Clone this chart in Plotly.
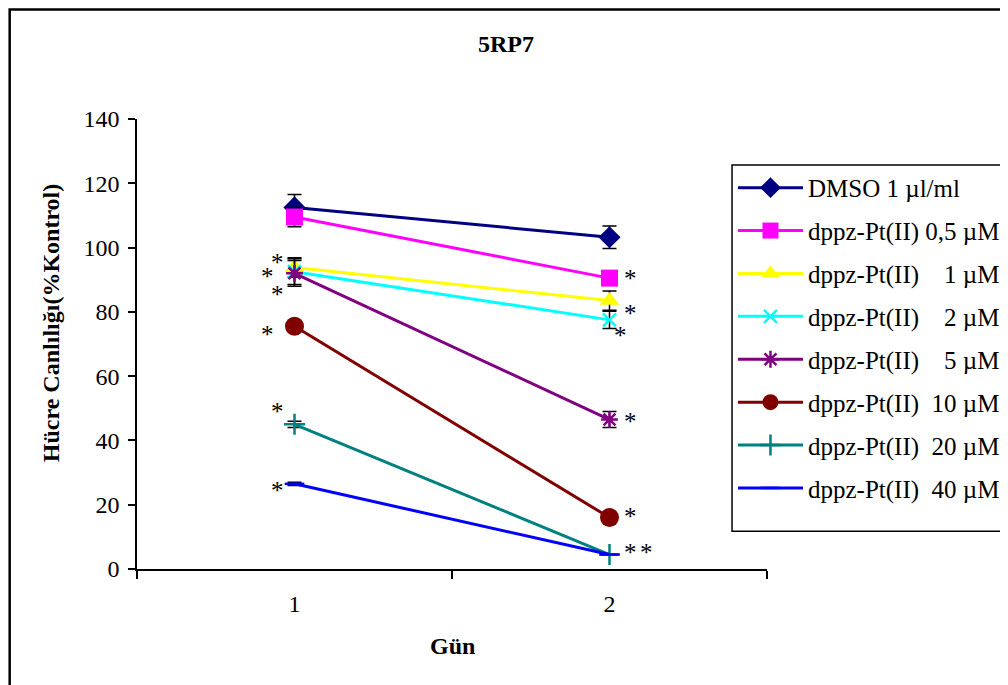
import plotly.graph_objects as go

days = [1, 2]
series_names = [
    "DMSO 1 µl/ml",
    "dppz-Pt(II) 0,5 µM",
    "dppz-Pt(II)\u00a0\u00a0\u00a0 1 µM",
    "dppz-Pt(II)\u00a0\u00a0\u00a0 2 µM",
    "dppz-Pt(II)\u00a0\u00a0\u00a0 5 µM",
    "dppz-Pt(II)\u00a0 10 µM",
    "dppz-Pt(II)\u00a0 20 µM",
    "dppz-Pt(II)\u00a0 40 µM",
]
dmso = [112.5, 103.2]
pt_05 = [109.5, 90.5]
pt_1 = [93.8, 83.5]
pt_2 = [92.5, 77.5]
pt_5 = [92.0, 46.5]
pt_10 = [75.5, 16.0]
pt_20 = [45.0, 4.5]
pt_40 = [26.5, 4.5]
values = [dmso, pt_05, pt_1, pt_2, pt_5, pt_10, pt_20, pt_40]

err_dmso = [4.0, 3.5]
err_05 = [3.0, 0.0]
err_1 = [3.0, 3.0]
err_2 = [4.0, 2.7]
err_5 = [4.0, 2.5]
err_10 = [0.0, 0.0]
err_20 = [1.0, 0.0]
err_40 = [0.5, 0.0]
errors = [err_dmso, err_05, err_1, err_2, err_5, err_10, err_20, err_40]

colors = ["#000080", "#FF00FF", "#FFFF00", "#00FFFF", "#800080", "#800000", "#008080", "#0000FF"]
symbols = ["diamond", "square", "triangle-up", "x-thin", "asterisk", "circle", "cross-thin", "line-ew"]
sizes = [17, 17, 17, 13, 14, 19, 15, 14]

# significance stars: (series index, day index, xshift px, yshift px)
stars = [
    (2, 0, -17, 5), (3, 0, -27, -5), (4, 0, -17, -21), (5, 0, -27, -8),
    (6, 0, -17, 13), (7, 0, -17, -7),
    (1, 1, 21, 0), (2, 1, 21, -13), (3, 1, 11, -16), (4, 1, 21, -2),
    (5, 1, 21, 1), (7, 1, 21, 2), (7, 1, 37, 2),
]

FONT = "Liberation Serif, Times New Roman, serif"
FS = 24
LFS = 25

fig = go.Figure()
for i, (name, vals, errs) in enumerate(zip(series_names, values, errors)):
    sym = symbols[i]
    thin = sym in ("x-thin", "asterisk", "cross-thin", "line-ew")
    fig.add_trace(go.Scatter(
        x=days, y=vals, name=name, mode="lines+markers",
        line=dict(color=colors[i], width=3),
        marker=dict(symbol=sym, size=sizes[i], color=colors[i],
                    line=dict(color=colors[i], width=2.5 if thin else 0)),
        error_y=dict(type="data", array=errs, visible=True, color="black",
                     thickness=1.5, width=7),
        legendgroup=f"g{i}",
    ))

for si, di, xs, ys in stars:
    fig.add_annotation(x=days[di], y=values[si][di], xref="x", yref="y",
                       text="*", showarrow=False, xshift=xs, yshift=ys,
                       font=dict(family=FONT, size=25, color="black"))

fig.add_annotation(x=0.586, y=1.167, xref="paper", yref="paper", text="<b>5RP7</b>",
                   xanchor="center", yanchor="middle",
                   showarrow=False, font=dict(family=FONT, size=FS, color="black"))
fig.add_annotation(x=-0.136, y=0.547, xref="paper", yref="paper",
                   text="<b>Hücre Canlılığı(%Kontrol)</b>", textangle=-90,
                   xanchor="center", yanchor="middle",
                   showarrow=False, font=dict(family=FONT, size=FS, color="black"))
fig.add_annotation(x=0.5, y=-0.171, xref="paper", yref="paper", text="<b>Gün</b>",
                   xanchor="center", yanchor="middle",
                   showarrow=False, font=dict(family=FONT, size=FS, color="black"))

# outer frame (top/left edges kept inside the drawing surface)
fig.add_shape(type="rect", xref="paper", yref="paper", x0=-0.2021, y0=-0.6,
              x1=1.6, y1=1.2433, line=dict(color="black", width=2.5), layer="below")
# legend box
fig.add_shape(type="rect", xref="paper", yref="paper", x0=0.9445, y0=0.084,
              x1=1.45, y1=0.898, line=dict(color="black", width=1.5), layer="below")

# page body has an 8px margin, so the margins are offset to compensate
fig.update_layout(
    width=1008, height=685,
    margin=dict(l=129, r=248, t=111, b=124),
    paper_bgcolor="white", plot_bgcolor="white",
    font=dict(family=FONT, size=FS, color="black"),
    showlegend=True,
    legend=dict(x=0.9445, y=0.898, xanchor="left", yanchor="top",
                borderwidth=0, bgcolor="rgba(0,0,0,0)",
                font=dict(family=FONT, size=LFS, color="black"),
                traceorder="grouped", tracegroupgap=7.4, itemwidth=65),
    xaxis=dict(range=[0.5, 2.5], tickvals=days, ticktext=["1", "2"], ticks="",
               showline=True, linecolor="black", linewidth=1.5, showgrid=False,
               zeroline=False, ticklabelstandoff=12,
               minor=dict(tickvals=[0.5, 1.5, 2.5], ticks="outside", ticklen=8,
                          tickcolor="black", tickwidth=1.5, showgrid=False),
               tickfont=dict(family=FONT, size=FS)),
    yaxis=dict(range=[0, 140], tickvals=[0, 20, 40, 60, 80, 100, 120, 140],
               ticks="outside", ticklen=7, tickwidth=1.5, tickcolor="black",
               showline=True, linecolor="black", linewidth=1.5, showgrid=False,
               zeroline=False, ticklabelstandoff=4, tickfont=dict(family=FONT, size=FS)),
)

fig.write_html("out.html")
